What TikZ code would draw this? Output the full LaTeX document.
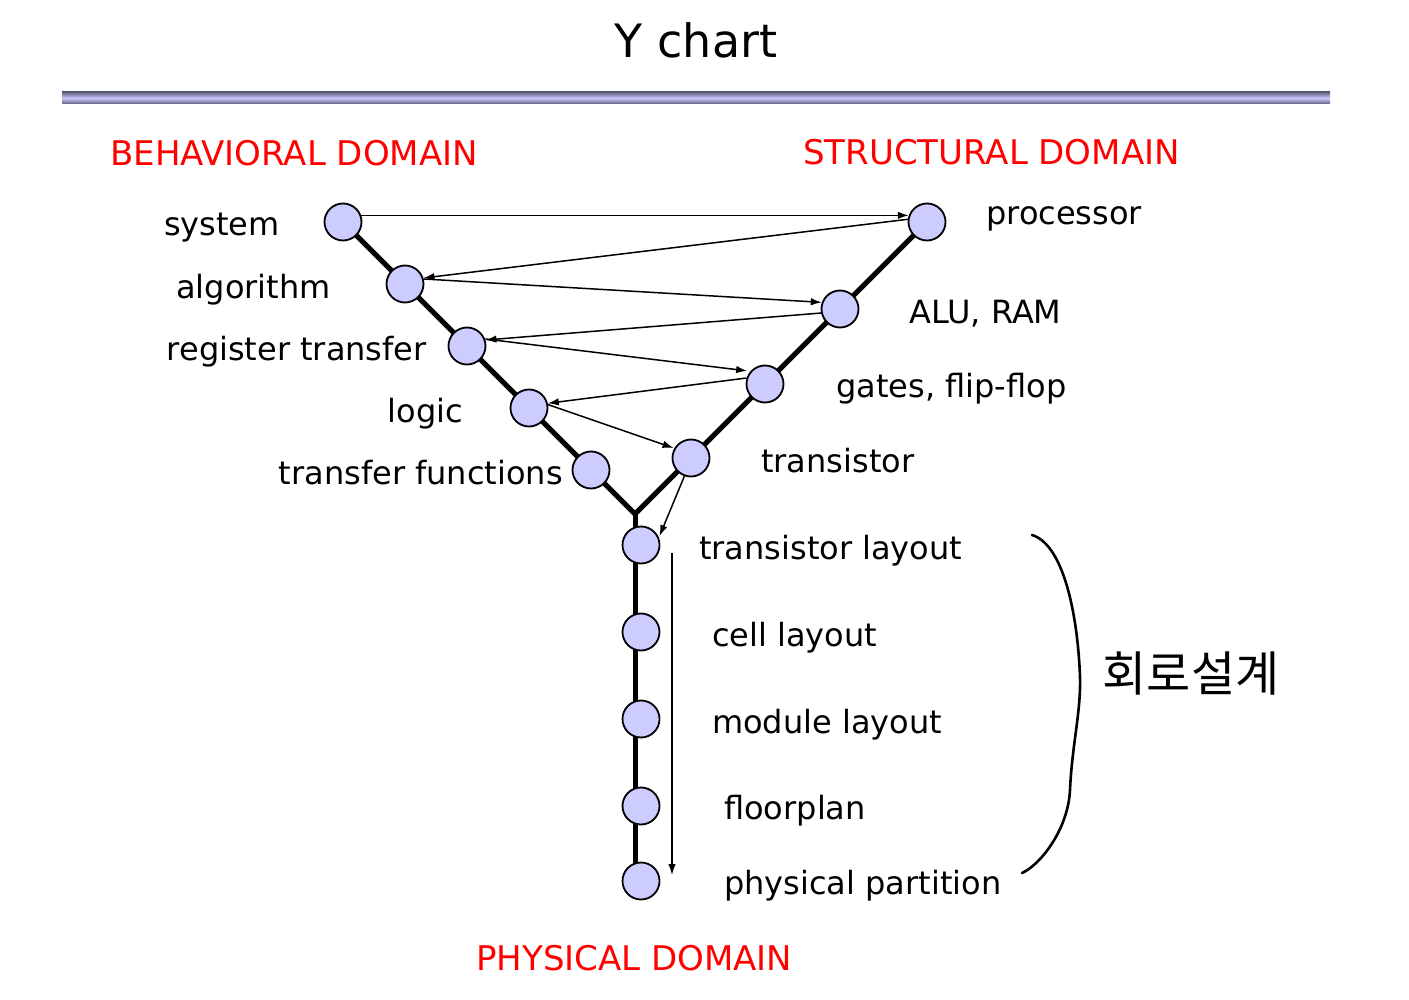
\documentclass[tikz,border=0pt]{standalone}
\usepackage{fontspec}
\setmainfont{DejaVu Sans}
\newfontfamily\krfont{Noto Sans CJK KR}
\usetikzlibrary{arrows.meta,shadings}
\pgfdeclarelayer{bg}
\pgfsetlayers{bg,main}
\definecolor{nodefill}{RGB}{204,204,255}
\definecolor{domred}{RGB}{255,0,0}
\definecolor{bardark}{RGB}{96,96,124}
\definecolor{barlight}{RGB}{200,200,255}
\begin{document}
\begin{tikzpicture}[x=1pt,y=-1pt,
  dot/.style={circle, draw=black, line width=1.8pt, fill=nodefill, minimum size=37pt, inner sep=0pt},
  lbl/.style={inner sep=0pt, font=\fontsize{32}{38}\selectfont},
  dom/.style={inner sep=0pt, text=domred, font=\fontsize{34}{40}\selectfont},
  axis/.style={line width=5pt, line join=miter},
  flow/.style={line width=1.5pt, -{Latex[length=11pt,width=7.5pt]}}]
\useasboundingbox (0,0) rectangle (1409,1000);
% title
\node[inner sep=0pt, font=\fontsize{46}{54}\selectfont, anchor=mid] (title) at (696,55) {Y chart};
\shade[top color=bardark, bottom color=bardark, middle color=barlight] (62,92) rectangle (1330,104);
% domain headings
\node[dom, anchor=mid west] (beh) at (110,163) {BEHAVIORAL DOMAIN};
\node[dom, anchor=mid west] (str) at (803,162) {STRUCTURAL DOMAIN};
\node[dom, anchor=mid west] (phy) at (476,968) {PHYSICAL DOMAIN};
% behavioral nodes
\node[dot] (sys) at (343,222) {};
\node[dot] (alg) at (405,284) {};
\node[dot] (reg) at (467,346) {};
\node[dot] (log) at (529,408) {};
\node[dot] (tfn) at (591,470) {};
% structural nodes
\node[dot] (proc) at (927,222) {};
\node[dot] (alu) at (840,309) {};
\node[dot] (gate) at (765,384) {};
\node[dot] (tran) at (691,458) {};
% physical nodes
\node[dot] (tlay) at (641,545) {};
\node[dot] (clay) at (641,632) {};
\node[dot] (mlay) at (641,719) {};
\node[dot] (flp) at (641,806) {};
\node[dot] (ppart) at (641,881) {};
\coordinate (junc) at (635,514);
\coordinate (vend) at (635,881);
\begin{pgfonlayer}{bg}
\draw[axis] (sys.center) -- (junc) -- (proc.center);
\draw[axis] (junc) -- (vend);
\end{pgfonlayer}
% labels
\node[lbl, anchor=mid east] (lsys) at (280,233) {system};
\node[lbl, anchor=mid east] (lalg) at (331,296) {algorithm};
\node[lbl, anchor=mid east] (lreg) at (427,358) {register transfer};
\node[lbl, anchor=mid east] (llog) at (463,420) {logic};
\node[lbl, anchor=mid east] (ltfn) at (563,482) {transfer functions};
\node[lbl, anchor=mid west] (lproc) at (986,222) {processor};
\node[lbl, anchor=mid west] (lalu) at (909,321) {ALU, RAM};
\node[lbl, anchor=mid west] (lgate) at (836,395) {gates, flip-flop};
\node[lbl, anchor=mid west] (ltran) at (761,470) {transistor};
\node[lbl, anchor=mid west] (ltlay) at (699,557) {transistor layout};
\node[lbl, anchor=mid west] (lclay) at (712,644) {cell layout};
\node[lbl, anchor=mid west] (lmlay) at (712,731) {module layout};
\node[lbl, anchor=mid west] (lflp) at (724,817) {floorplan};
\node[lbl, anchor=mid west] (lpp) at (724,892) {physical partition};
% flow arrows
\draw[flow] (sys.20) -- (proc.160);
\draw[flow] (proc.172) -- (alg.18);
\draw[flow] (alg.15) -- (alu.160);
\draw[flow] (alu.192) -- (reg.18);
\draw[flow] ([yshift=1pt]reg.18) -- ([shift={(-2pt,2pt)}]gate.145);
\draw[flow] (gate.162) -- (log.14);
\draw[flow] (log.10) -- ([shift={(-3pt,-3pt)}]tran.138);
\draw[flow] (tran.250) -- ([shift={(6pt,-6pt)}]tlay.50);
\coordinate (vs) at (672,553);
\coordinate (ve) at (672,875);
\draw[flow] (vs) -- (ve);
% brace
\coordinate (b0) at (1032,535);
\coordinate (b1) at (1080,677);
\coordinate (b2) at (1070,790);
\coordinate (b3) at (1022,873);
\draw[line width=2.6pt, line cap=round] (b0) .. controls (1065,545) and (1078,620) .. (b1)
  .. controls (1081,712) and (1072,745) .. (b2)
  .. controls (1068,830) and (1040,865) .. (b3);
\node[inner sep=0pt, font=\krfont\fontsize{48}{54}\selectfont] (kr) at (1191,674) {회로설계};
\end{tikzpicture}
\end{document}
